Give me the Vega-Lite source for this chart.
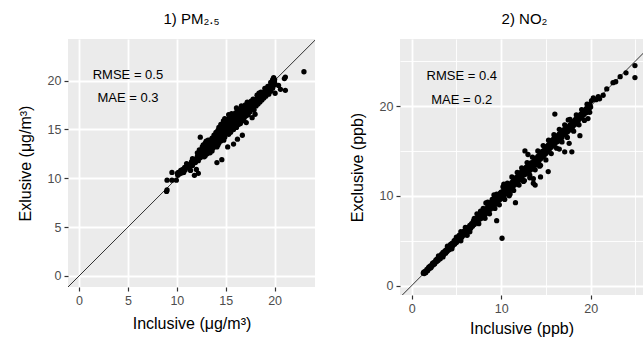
{
  "$schema": "https://vega.github.io/schema/vega-lite/v6.json",
  "padding": {"left": 17, "top": 12, "right": 0, "bottom": 0},
  "config": {
    "font": "Liberation Sans",
    "view": {"fill": "#EBEBEB", "stroke": null},
    "axis": {
      "domain": false,
      "gridColor": "#FFFFFF",
      "tickColor": "#333333",
      "tickSize": 4,
      "tickWidth": 1.2,
      "labelColor": "#4D4D4D",
      "labelFontSize": 12.5,
      "labelPadding": 3,
      "titleFontSize": 16,
      "titleFontWeight": "normal",
      "titleColor": "#000000"
    },
    "axisX": {"titlePadding": 6},
    "axisY": {"titlePadding": 14},
    "title": {"fontSize": 15, "fontWeight": "normal", "anchor": "middle", "offset": 12, "color": "#000000"},
    "concat": {"spacing": 34}
  },
  "datasets": {
    "pm": [
      {"inc": 8.95, "exc": 8.65}, {"inc": 9.0, "exc": 8.8}, {"inc": 9.0, "exc": 9.8}, {"inc": 9.5, "exc": 9.8}, {"inc": 9.95, "exc": 9.8},
      {"inc": 9.5, "exc": 10.6}, {"inc": 10.1, "exc": 10.3}, {"inc": 10.15, "exc": 10.6}, {"inc": 10.3, "exc": 10.45}, {"inc": 10.4, "exc": 10.8},
      {"inc": 10.05, "exc": 10.5}, {"inc": 10.6, "exc": 10.9}, {"inc": 10.8, "exc": 11.1}, {"inc": 10.85, "exc": 10.85}, {"inc": 11.0, "exc": 11.2},
      {"inc": 11.2, "exc": 11.4}, {"inc": 11.3, "exc": 11.0}, {"inc": 11.5, "exc": 11.7}, {"inc": 11.6, "exc": 11.3}, {"inc": 11.7, "exc": 11.9},
      {"inc": 11.9, "exc": 11.6}, {"inc": 11.8, "exc": 10.3}, {"inc": 12.2, "exc": 10.5}, {"inc": 12.0, "exc": 10.9}, {"inc": 11.4, "exc": 10.8},
      {"inc": 12.0, "exc": 12.0}, {"inc": 12.1, "exc": 12.2}, {"inc": 12.2, "exc": 11.8}, {"inc": 12.3, "exc": 12.5}, {"inc": 12.4, "exc": 12.1},
      {"inc": 12.4, "exc": 14.2}, {"inc": 12.5, "exc": 12.8}, {"inc": 12.6, "exc": 12.4}, {"inc": 12.7, "exc": 12.9}, {"inc": 12.8, "exc": 12.6},
      {"inc": 12.9, "exc": 13.1}, {"inc": 12.9, "exc": 12.3}, {"inc": 13.0, "exc": 13.3}, {"inc": 13.0, "exc": 12.8}, {"inc": 13.1, "exc": 12.5},
      {"inc": 13.2, "exc": 13.0}, {"inc": 13.2, "exc": 13.9}, {"inc": 13.3, "exc": 13.5}, {"inc": 13.3, "exc": 12.9}, {"inc": 13.4, "exc": 13.2},
      {"inc": 13.5, "exc": 13.7}, {"inc": 13.5, "exc": 13.0}, {"inc": 13.6, "exc": 13.4}, {"inc": 13.7, "exc": 13.75}, {"inc": 13.7, "exc": 13.1},
      {"inc": 13.8, "exc": 13.6}, {"inc": 13.9, "exc": 14.0}, {"inc": 13.9, "exc": 13.3}, {"inc": 14.0, "exc": 14.2}, {"inc": 14.0, "exc": 13.7},
      {"inc": 14.1, "exc": 13.9}, {"inc": 14.1, "exc": 11.6}, {"inc": 14.2, "exc": 14.4}, {"inc": 14.2, "exc": 14.9}, {"inc": 14.3, "exc": 14.1},
      {"inc": 14.3, "exc": 13.6}, {"inc": 14.3, "exc": 15.2}, {"inc": 14.4, "exc": 14.6}, {"inc": 14.4, "exc": 14.0}, {"inc": 14.5, "exc": 14.8},
      {"inc": 14.5, "exc": 14.3}, {"inc": 14.5, "exc": 13.8}, {"inc": 14.6, "exc": 15.0}, {"inc": 14.6, "exc": 14.5}, {"inc": 14.6, "exc": 11.9},
      {"inc": 14.7, "exc": 14.2}, {"inc": 14.7, "exc": 14.9}, {"inc": 14.76, "exc": 15.86}, {"inc": 14.8, "exc": 15.1}, {"inc": 14.8, "exc": 14.5},
      {"inc": 14.9, "exc": 14.7}, {"inc": 14.9, "exc": 15.4}, {"inc": 15.0, "exc": 15.0}, {"inc": 15.0, "exc": 14.6}, {"inc": 15.0, "exc": 15.6},
      {"inc": 15.1, "exc": 15.2}, {"inc": 15.1, "exc": 14.8}, {"inc": 15.2, "exc": 15.5}, {"inc": 15.2, "exc": 14.9}, {"inc": 15.2, "exc": 13.2},
      {"inc": 15.3, "exc": 15.3}, {"inc": 15.3, "exc": 16.0}, {"inc": 15.3, "exc": 16.5}, {"inc": 15.4, "exc": 15.6}, {"inc": 15.4, "exc": 15.0},
      {"inc": 15.5, "exc": 15.8}, {"inc": 15.5, "exc": 15.3}, {"inc": 15.6, "exc": 16.2}, {"inc": 15.6, "exc": 15.5}, {"inc": 15.6, "exc": 14.9},
      {"inc": 15.7, "exc": 15.9}, {"inc": 15.7, "exc": 15.3}, {"inc": 15.8, "exc": 16.1}, {"inc": 15.8, "exc": 13.5}, {"inc": 15.9, "exc": 15.7},
      {"inc": 15.9, "exc": 16.4}, {"inc": 16.0, "exc": 16.0}, {"inc": 16.0, "exc": 15.5}, {"inc": 16.1, "exc": 16.3}, {"inc": 16.1, "exc": 15.8},
      {"inc": 16.1, "exc": 17.2}, {"inc": 16.2, "exc": 16.6}, {"inc": 16.2, "exc": 14.0}, {"inc": 16.2, "exc": 15.9}, {"inc": 16.3, "exc": 16.2},
      {"inc": 16.3, "exc": 16.8}, {"inc": 16.4, "exc": 16.4}, {"inc": 16.4, "exc": 15.7}, {"inc": 16.5, "exc": 16.7}, {"inc": 16.5, "exc": 16.1},
      {"inc": 16.6, "exc": 16.9}, {"inc": 16.6, "exc": 16.4}, {"inc": 16.7, "exc": 14.4}, {"inc": 16.7, "exc": 16.6}, {"inc": 16.8, "exc": 17.1},
      {"inc": 16.8, "exc": 16.5}, {"inc": 16.9, "exc": 16.8}, {"inc": 16.9, "exc": 17.3}, {"inc": 17.0, "exc": 17.0}, {"inc": 17.0, "exc": 16.6},
      {"inc": 17.1, "exc": 15.7}, {"inc": 17.1, "exc": 17.2}, {"inc": 17.2, "exc": 16.9}, {"inc": 17.2, "exc": 17.5}, {"inc": 17.3, "exc": 17.1},
      {"inc": 17.4, "exc": 17.3}, {"inc": 17.4, "exc": 16.8}, {"inc": 17.5, "exc": 17.6}, {"inc": 17.5, "exc": 17.2}, {"inc": 17.6, "exc": 17.4},
      {"inc": 17.7, "exc": 16.2}, {"inc": 17.7, "exc": 17.7}, {"inc": 17.8, "exc": 17.5}, {"inc": 17.9, "exc": 17.8}, {"inc": 17.9, "exc": 17.4},
      {"inc": 18.0, "exc": 18.0}, {"inc": 18.0, "exc": 16.55}, {"inc": 18.0, "exc": 17.7}, {"inc": 18.1, "exc": 17.9}, {"inc": 18.2, "exc": 18.1},
      {"inc": 18.2, "exc": 17.8}, {"inc": 18.3, "exc": 18.2}, {"inc": 18.4, "exc": 18.0}, {"inc": 18.4, "exc": 18.4}, {"inc": 18.5, "exc": 18.3},
      {"inc": 18.6, "exc": 18.5}, {"inc": 18.6, "exc": 18.1}, {"inc": 18.7, "exc": 18.4}, {"inc": 18.8, "exc": 18.7}, {"inc": 18.8, "exc": 18.3},
      {"inc": 18.9, "exc": 18.6}, {"inc": 19.0, "exc": 18.9}, {"inc": 19.0, "exc": 18.5}, {"inc": 19.1, "exc": 18.8}, {"inc": 19.2, "exc": 19.0},
      {"inc": 19.2, "exc": 18.6}, {"inc": 19.3, "exc": 18.9}, {"inc": 19.4, "exc": 19.2}, {"inc": 19.4, "exc": 18.8}, {"inc": 19.5, "exc": 19.3},
      {"inc": 19.5, "exc": 19.0}, {"inc": 19.6, "exc": 19.5}, {"inc": 19.7, "exc": 19.3}, {"inc": 19.7, "exc": 19.7}, {"inc": 19.8, "exc": 19.6},
      {"inc": 19.9, "exc": 20.0}, {"inc": 19.9, "exc": 20.3}, {"inc": 20.0, "exc": 19.8}, {"inc": 20.0, "exc": 20.1}, {"inc": 20.05, "exc": 18.7},
      {"inc": 20.4, "exc": 19.5}, {"inc": 20.6, "exc": 19.1}, {"inc": 21.1, "exc": 19.0}, {"inc": 21.0, "exc": 20.2}, {"inc": 21.1, "exc": 20.35},
      {"inc": 23.0, "exc": 20.9},
      {"inc": 12.3, "exc": 12.9}, {"inc": 12.6, "exc": 13.2}, {"inc": 12.8, "exc": 12.2}, {"inc": 13.0, "exc": 13.8}, {"inc": 13.1, "exc": 13.4},
      {"inc": 13.4, "exc": 13.9}, {"inc": 13.6, "exc": 14.1}, {"inc": 13.6, "exc": 12.8}, {"inc": 13.8, "exc": 14.4}, {"inc": 14.0, "exc": 14.7},
      {"inc": 14.1, "exc": 13.2}, {"inc": 14.2, "exc": 13.4}, {"inc": 14.4, "exc": 15.0}, {"inc": 14.5, "exc": 15.5}, {"inc": 14.7, "exc": 15.3},
      {"inc": 14.8, "exc": 13.9}, {"inc": 14.9, "exc": 14.2}, {"inc": 15.0, "exc": 16.0}, {"inc": 15.1, "exc": 15.9}, {"inc": 15.3, "exc": 14.5},
      {"inc": 15.4, "exc": 16.2}, {"inc": 15.5, "exc": 14.7}, {"inc": 15.6, "exc": 16.6}, {"inc": 15.7, "exc": 16.4}, {"inc": 15.8, "exc": 15.0},
      {"inc": 15.9, "exc": 15.2}, {"inc": 16.0, "exc": 16.7}, {"inc": 16.1, "exc": 15.2}, {"inc": 16.3, "exc": 15.5}, {"inc": 16.4, "exc": 17.0},
      {"inc": 16.5, "exc": 15.6}, {"inc": 16.6, "exc": 17.4}, {"inc": 16.7, "exc": 16.0}, {"inc": 16.8, "exc": 15.9}, {"inc": 16.9, "exc": 16.2},
      {"inc": 17.0, "exc": 17.5}, {"inc": 17.1, "exc": 16.4}, {"inc": 17.2, "exc": 17.8}, {"inc": 17.3, "exc": 16.5}, {"inc": 17.5, "exc": 16.8},
      {"inc": 17.6, "exc": 17.9}, {"inc": 17.7, "exc": 17.1}, {"inc": 17.8, "exc": 18.1}, {"inc": 17.9, "exc": 17.0}, {"inc": 18.1, "exc": 17.4},
      {"inc": 18.2, "exc": 18.5}, {"inc": 18.3, "exc": 17.6}, {"inc": 18.5, "exc": 17.8}, {"inc": 18.6, "exc": 18.8}, {"inc": 18.7, "exc": 18.0},
      {"inc": 18.9, "exc": 18.2}, {"inc": 19.0, "exc": 19.2}, {"inc": 19.1, "exc": 18.4}, {"inc": 19.3, "exc": 19.4}, {"inc": 19.4, "exc": 18.6},
      {"inc": 19.6, "exc": 18.9}, {"inc": 19.8, "exc": 19.2}, {"inc": 19.9, "exc": 19.5}, {"inc": 19.8, "exc": 20.1}, {"inc": 19.6, "exc": 19.8},
      {"inc": 12.1, "exc": 12.6}, {"inc": 11.6, "exc": 12.0}, {"inc": 11.0, "exc": 11.5}, {"inc": 10.7, "exc": 10.6}, {"inc": 12.7, "exc": 13.4},
      {"inc": 13.4, "exc": 12.6}, {"inc": 14.9, "exc": 16.1}, {"inc": 14.3, "exc": 14.9}, {"inc": 16.2, "exc": 16.9}, {"inc": 18.4, "exc": 18.7},
      {"inc": 12.15, "exc": 12.35}, {"inc": 12.45, "exc": 12.55}, {"inc": 12.75, "exc": 12.75}, {"inc": 13.05, "exc": 13.1}, {"inc": 13.25, "exc": 13.25},
      {"inc": 13.55, "exc": 13.5}, {"inc": 13.75, "exc": 13.9}, {"inc": 14.05, "exc": 14.0}, {"inc": 14.25, "exc": 14.25}, {"inc": 14.55, "exc": 14.6},
      {"inc": 14.75, "exc": 14.65}, {"inc": 15.05, "exc": 15.3}, {"inc": 15.25, "exc": 15.2}, {"inc": 15.45, "exc": 15.45}, {"inc": 15.65, "exc": 15.7},
      {"inc": 15.85, "exc": 15.9}, {"inc": 16.05, "exc": 16.2}, {"inc": 16.25, "exc": 16.3}, {"inc": 16.45, "exc": 16.5}, {"inc": 16.65, "exc": 16.6},
      {"inc": 16.85, "exc": 16.9}, {"inc": 17.05, "exc": 17.0}, {"inc": 17.25, "exc": 17.2}, {"inc": 17.45, "exc": 17.4}, {"inc": 17.65, "exc": 17.5},
      {"inc": 17.85, "exc": 17.7}, {"inc": 18.05, "exc": 17.9}, {"inc": 18.25, "exc": 18.0}, {"inc": 18.45, "exc": 18.2}, {"inc": 18.65, "exc": 18.4},
      {"inc": 18.85, "exc": 18.5}, {"inc": 19.05, "exc": 18.7}, {"inc": 19.25, "exc": 18.9}, {"inc": 19.45, "exc": 19.1}, {"inc": 19.65, "exc": 19.3},
      {"inc": 19.85, "exc": 19.9}, {"inc": 11.35, "exc": 11.35}, {"inc": 11.75, "exc": 11.6}, {"inc": 10.55, "exc": 10.55}, {"inc": 12.9, "exc": 13.6},
      {"inc": 15.5, "exc": 16.4}
    ],
    "no2": [
      {"inc": 1.3, "exc": 1.4}, {"inc": 1.4, "exc": 1.35}, {"inc": 1.5, "exc": 1.6}, {"inc": 1.6, "exc": 1.5}, {"inc": 1.7, "exc": 1.8},
      {"inc": 1.8, "exc": 1.7}, {"inc": 1.9, "exc": 2.0}, {"inc": 2.0, "exc": 1.9}, {"inc": 2.1, "exc": 2.2}, {"inc": 2.2, "exc": 2.1},
      {"inc": 2.3, "exc": 2.4}, {"inc": 2.4, "exc": 2.3}, {"inc": 2.5, "exc": 2.6}, {"inc": 2.6, "exc": 2.5}, {"inc": 2.7, "exc": 2.8},
      {"inc": 2.8, "exc": 2.7}, {"inc": 2.9, "exc": 3.0}, {"inc": 3.0, "exc": 2.9}, {"inc": 3.1, "exc": 3.2}, {"inc": 3.2, "exc": 3.0},
      {"inc": 3.3, "exc": 3.4}, {"inc": 3.4, "exc": 3.3}, {"inc": 3.5, "exc": 3.7}, {"inc": 3.6, "exc": 3.5}, {"inc": 3.7, "exc": 3.8},
      {"inc": 3.8, "exc": 3.6}, {"inc": 3.9, "exc": 4.0}, {"inc": 4.0, "exc": 3.9}, {"inc": 4.1, "exc": 4.3}, {"inc": 4.2, "exc": 4.0},
      {"inc": 4.3, "exc": 4.4}, {"inc": 4.4, "exc": 4.2}, {"inc": 4.5, "exc": 4.7}, {"inc": 4.6, "exc": 4.5}, {"inc": 4.7, "exc": 4.8},
      {"inc": 4.8, "exc": 4.6}, {"inc": 4.9, "exc": 5.1}, {"inc": 5.0, "exc": 4.8}, {"inc": 5.1, "exc": 5.3}, {"inc": 5.2, "exc": 5.0},
      {"inc": 5.3, "exc": 5.6}, {"inc": 5.4, "exc": 5.2}, {"inc": 5.5, "exc": 5.5}, {"inc": 5.6, "exc": 5.4}, {"inc": 5.7, "exc": 5.9},
      {"inc": 5.8, "exc": 5.6}, {"inc": 5.9, "exc": 6.1}, {"inc": 6.0, "exc": 5.8}, {"inc": 6.1, "exc": 6.3}, {"inc": 6.2, "exc": 6.0},
      {"inc": 6.3, "exc": 6.5}, {"inc": 6.4, "exc": 6.2}, {"inc": 6.5, "exc": 6.7}, {"inc": 6.6, "exc": 6.4}, {"inc": 6.7, "exc": 6.9},
      {"inc": 6.8, "exc": 6.6}, {"inc": 6.9, "exc": 7.2}, {"inc": 7.0, "exc": 6.8}, {"inc": 7.1, "exc": 7.3}, {"inc": 7.2, "exc": 7.0},
      {"inc": 7.3, "exc": 7.5}, {"inc": 7.4, "exc": 7.1}, {"inc": 7.5, "exc": 7.8}, {"inc": 7.6, "exc": 7.4}, {"inc": 7.7, "exc": 7.9},
      {"inc": 7.8, "exc": 7.5}, {"inc": 7.9, "exc": 8.1}, {"inc": 8.0, "exc": 7.8}, {"inc": 8.1, "exc": 8.4}, {"inc": 8.2, "exc": 7.9},
      {"inc": 8.3, "exc": 8.5}, {"inc": 8.4, "exc": 8.1}, {"inc": 8.5, "exc": 8.8}, {"inc": 8.6, "exc": 8.3}, {"inc": 8.7, "exc": 8.9},
      {"inc": 8.8, "exc": 8.5}, {"inc": 8.9, "exc": 9.3}, {"inc": 9.0, "exc": 8.7}, {"inc": 9.1, "exc": 9.2}, {"inc": 9.2, "exc": 8.9},
      {"inc": 9.3, "exc": 9.6}, {"inc": 9.4, "exc": 9.1}, {"inc": 9.5, "exc": 9.8}, {"inc": 9.5, "exc": 7.24}, {"inc": 9.6, "exc": 9.4},
      {"inc": 9.7, "exc": 10.0}, {"inc": 9.8, "exc": 9.5}, {"inc": 9.9, "exc": 10.3}, {"inc": 10.0, "exc": 9.7}, {"inc": 10.0, "exc": 10.4},
      {"inc": 10.1, "exc": 5.28}, {"inc": 10.1, "exc": 10.0}, {"inc": 10.2, "exc": 10.5}, {"inc": 10.3, "exc": 9.9}, {"inc": 10.4, "exc": 10.7},
      {"inc": 10.5, "exc": 10.2}, {"inc": 10.6, "exc": 10.9}, {"inc": 10.7, "exc": 10.3}, {"inc": 10.8, "exc": 11.1}, {"inc": 10.9, "exc": 10.6},
      {"inc": 11.0, "exc": 11.3}, {"inc": 11.1, "exc": 10.8}, {"inc": 11.2, "exc": 11.5}, {"inc": 11.3, "exc": 11.0}, {"inc": 11.4, "exc": 11.8},
      {"inc": 11.5, "exc": 11.2}, {"inc": 11.6, "exc": 9.24}, {"inc": 11.6, "exc": 12.0}, {"inc": 11.7, "exc": 11.4}, {"inc": 11.8, "exc": 12.1},
      {"inc": 11.9, "exc": 11.6}, {"inc": 12.0, "exc": 12.4}, {"inc": 12.1, "exc": 11.8}, {"inc": 12.2, "exc": 12.6}, {"inc": 12.3, "exc": 11.9},
      {"inc": 12.4, "exc": 12.8}, {"inc": 12.5, "exc": 12.3}, {"inc": 12.66, "exc": 15.0}, {"inc": 12.6, "exc": 13.0}, {"inc": 12.7, "exc": 12.4},
      {"inc": 12.8, "exc": 13.2}, {"inc": 12.9, "exc": 12.7}, {"inc": 13.0, "exc": 13.4}, {"inc": 13.1, "exc": 12.6}, {"inc": 13.2, "exc": 13.6},
      {"inc": 13.3, "exc": 12.9}, {"inc": 13.4, "exc": 13.7}, {"inc": 13.5, "exc": 13.2}, {"inc": 13.6, "exc": 11.4}, {"inc": 13.8, "exc": 11.2},
      {"inc": 13.7, "exc": 13.9}, {"inc": 13.8, "exc": 13.4}, {"inc": 13.9, "exc": 14.2}, {"inc": 14.0, "exc": 13.7}, {"inc": 14.1, "exc": 14.4},
      {"inc": 14.2, "exc": 13.8}, {"inc": 14.4, "exc": 12.1}, {"inc": 14.3, "exc": 14.6}, {"inc": 14.4, "exc": 14.1}, {"inc": 14.5, "exc": 14.9},
      {"inc": 14.6, "exc": 14.3}, {"inc": 14.7, "exc": 15.0}, {"inc": 14.8, "exc": 14.5}, {"inc": 14.9, "exc": 15.3}, {"inc": 15.0, "exc": 14.7},
      {"inc": 15.1, "exc": 15.5}, {"inc": 15.26, "exc": 12.7}, {"inc": 15.2, "exc": 14.9}, {"inc": 15.3, "exc": 15.7}, {"inc": 15.4, "exc": 15.2},
      {"inc": 15.5, "exc": 16.0}, {"inc": 15.6, "exc": 15.4}, {"inc": 15.7, "exc": 16.2}, {"inc": 15.8, "exc": 15.6}, {"inc": 15.9, "exc": 16.4},
      {"inc": 16.0, "exc": 19.1}, {"inc": 16.0, "exc": 15.8}, {"inc": 16.1, "exc": 16.5}, {"inc": 16.2, "exc": 16.0}, {"inc": 16.3, "exc": 16.7},
      {"inc": 16.4, "exc": 16.1}, {"inc": 16.5, "exc": 16.9}, {"inc": 16.6, "exc": 16.3}, {"inc": 16.7, "exc": 17.1}, {"inc": 16.8, "exc": 16.5},
      {"inc": 16.9, "exc": 17.3}, {"inc": 17.0, "exc": 16.8}, {"inc": 17.1, "exc": 14.9}, {"inc": 17.1, "exc": 17.4}, {"inc": 17.2, "exc": 17.0},
      {"inc": 17.3, "exc": 17.6}, {"inc": 17.4, "exc": 17.1}, {"inc": 17.5, "exc": 18.45}, {"inc": 17.5, "exc": 17.7}, {"inc": 17.6, "exc": 15.85},
      {"inc": 17.6, "exc": 17.3}, {"inc": 17.7, "exc": 17.9}, {"inc": 17.8, "exc": 17.5}, {"inc": 17.9, "exc": 14.9}, {"inc": 17.9, "exc": 18.1},
      {"inc": 18.0, "exc": 17.7}, {"inc": 18.1, "exc": 18.3}, {"inc": 18.2, "exc": 17.9}, {"inc": 18.3, "exc": 18.5}, {"inc": 18.4, "exc": 18.1},
      {"inc": 18.5, "exc": 18.7}, {"inc": 18.6, "exc": 18.3}, {"inc": 18.7, "exc": 18.9}, {"inc": 18.8, "exc": 16.7}, {"inc": 18.8, "exc": 18.6},
      {"inc": 18.9, "exc": 19.1}, {"inc": 19.0, "exc": 18.7}, {"inc": 19.1, "exc": 19.3}, {"inc": 19.2, "exc": 19.0}, {"inc": 19.3, "exc": 19.5},
      {"inc": 19.4, "exc": 19.2}, {"inc": 19.5, "exc": 19.7}, {"inc": 19.6, "exc": 19.3}, {"inc": 19.7, "exc": 18.6}, {"inc": 19.7, "exc": 20.0},
      {"inc": 19.8, "exc": 19.6}, {"inc": 19.9, "exc": 20.2}, {"inc": 20.0, "exc": 19.9}, {"inc": 20.3, "exc": 20.9}, {"inc": 20.6, "exc": 20.7},
      {"inc": 20.85, "exc": 21.05}, {"inc": 21.0, "exc": 20.8}, {"inc": 21.4, "exc": 21.2}, {"inc": 21.8, "exc": 21.9}, {"inc": 22.5, "exc": 22.6},
      {"inc": 22.8, "exc": 22.7}, {"inc": 23.3, "exc": 23.27}, {"inc": 23.95, "exc": 23.7}, {"inc": 24.95, "exc": 24.5}, {"inc": 24.95, "exc": 23.16},
      {"inc": 3.0, "exc": 3.3}, {"inc": 3.5, "exc": 3.2}, {"inc": 4.0, "exc": 4.4}, {"inc": 4.5, "exc": 4.1}, {"inc": 5.0, "exc": 5.4},
      {"inc": 5.5, "exc": 5.0}, {"inc": 5.5, "exc": 6.0}, {"inc": 6.0, "exc": 6.5}, {"inc": 6.5, "exc": 6.0}, {"inc": 7.0, "exc": 7.5},
      {"inc": 7.5, "exc": 6.9}, {"inc": 7.7, "exc": 8.3}, {"inc": 8.0, "exc": 8.6}, {"inc": 8.2, "exc": 7.5}, {"inc": 8.5, "exc": 9.3},
      {"inc": 8.7, "exc": 8.0}, {"inc": 9.0, "exc": 9.6}, {"inc": 9.3, "exc": 8.6}, {"inc": 9.5, "exc": 10.2}, {"inc": 9.8, "exc": 9.0},
      {"inc": 10.2, "exc": 11.0}, {"inc": 10.4, "exc": 9.6}, {"inc": 10.7, "exc": 11.4}, {"inc": 10.9, "exc": 10.0}, {"inc": 11.2, "exc": 12.1},
      {"inc": 11.4, "exc": 10.6}, {"inc": 11.8, "exc": 12.6}, {"inc": 12.0, "exc": 11.2}, {"inc": 12.3, "exc": 13.1}, {"inc": 12.5, "exc": 11.6},
      {"inc": 12.9, "exc": 13.7}, {"inc": 13.2, "exc": 12.3}, {"inc": 13.5, "exc": 14.3}, {"inc": 13.0, "exc": 14.6}, {"inc": 13.8, "exc": 12.9},
      {"inc": 14.1, "exc": 15.0}, {"inc": 14.3, "exc": 13.3}, {"inc": 14.7, "exc": 15.6}, {"inc": 15.0, "exc": 14.0}, {"inc": 15.3, "exc": 16.2},
      {"inc": 15.6, "exc": 14.7}, {"inc": 15.9, "exc": 16.8}, {"inc": 16.2, "exc": 15.3}, {"inc": 16.5, "exc": 17.4}, {"inc": 16.8, "exc": 16.0},
      {"inc": 17.1, "exc": 17.9}, {"inc": 17.4, "exc": 16.5}, {"inc": 17.7, "exc": 18.5}, {"inc": 18.1, "exc": 17.2}, {"inc": 18.4, "exc": 19.0},
      {"inc": 18.7, "exc": 17.9}, {"inc": 19.0, "exc": 19.6}, {"inc": 19.3, "exc": 18.4}, {"inc": 19.6, "exc": 20.2}, {"inc": 19.9, "exc": 19.3},
      {"inc": 20.1, "exc": 20.6}, {"inc": 16.5, "exc": 15.2}, {"inc": 16.0, "exc": 16.3}, {"inc": 13.2, "exc": 12.0}, {"inc": 13.6, "exc": 11.9},
      {"inc": 1.35, "exc": 1.5}, {"inc": 1.55, "exc": 1.45}, {"inc": 1.75, "exc": 1.7}, {"inc": 1.95, "exc": 2.1}, {"inc": 2.15, "exc": 2.0},
      {"inc": 2.35, "exc": 2.5}, {"inc": 2.55, "exc": 2.4}, {"inc": 2.75, "exc": 2.9}, {"inc": 2.95, "exc": 2.8}, {"inc": 3.15, "exc": 3.1},
      {"inc": 3.35, "exc": 3.5}, {"inc": 3.55, "exc": 3.45}, {"inc": 3.75, "exc": 3.9}, {"inc": 3.95, "exc": 3.8}, {"inc": 4.15, "exc": 4.1},
      {"inc": 4.35, "exc": 4.6}, {"inc": 4.55, "exc": 4.4}, {"inc": 4.75, "exc": 5.0}, {"inc": 4.95, "exc": 4.9}, {"inc": 5.15, "exc": 5.1},
      {"inc": 5.35, "exc": 5.4}, {"inc": 5.65, "exc": 5.7}, {"inc": 5.85, "exc": 6.0}, {"inc": 6.05, "exc": 6.1}, {"inc": 6.25, "exc": 6.3},
      {"inc": 6.45, "exc": 6.5}, {"inc": 6.65, "exc": 6.6}, {"inc": 6.85, "exc": 7.0}, {"inc": 7.05, "exc": 7.1}, {"inc": 7.25, "exc": 7.3},
      {"inc": 7.45, "exc": 7.6}, {"inc": 7.65, "exc": 7.6}, {"inc": 7.85, "exc": 8.0}, {"inc": 8.05, "exc": 8.1}, {"inc": 8.25, "exc": 8.3},
      {"inc": 8.45, "exc": 8.5}, {"inc": 8.65, "exc": 8.7}, {"inc": 8.85, "exc": 9.0}, {"inc": 9.05, "exc": 9.1}, {"inc": 9.25, "exc": 9.3},
      {"inc": 9.45, "exc": 9.4}, {"inc": 9.65, "exc": 9.8}, {"inc": 9.85, "exc": 9.9}, {"inc": 10.05, "exc": 10.1}, {"inc": 10.25, "exc": 10.2},
      {"inc": 10.45, "exc": 10.5}, {"inc": 10.65, "exc": 10.6}, {"inc": 10.85, "exc": 10.9}, {"inc": 11.05, "exc": 11.0}, {"inc": 11.25, "exc": 11.3},
      {"inc": 11.45, "exc": 11.4}, {"inc": 11.65, "exc": 11.7}, {"inc": 11.85, "exc": 11.8}, {"inc": 12.05, "exc": 12.1}, {"inc": 12.25, "exc": 12.2},
      {"inc": 12.45, "exc": 12.5}, {"inc": 12.65, "exc": 12.6}, {"inc": 12.85, "exc": 12.9}, {"inc": 13.05, "exc": 13.0}, {"inc": 13.25, "exc": 13.3},
      {"inc": 13.45, "exc": 13.4}, {"inc": 13.65, "exc": 13.6}, {"inc": 13.85, "exc": 13.9}, {"inc": 14.05, "exc": 14.0}, {"inc": 14.25, "exc": 14.3},
      {"inc": 14.45, "exc": 14.5}, {"inc": 14.65, "exc": 14.6}, {"inc": 14.85, "exc": 14.9}, {"inc": 15.05, "exc": 15.1}, {"inc": 15.25, "exc": 15.3},
      {"inc": 15.45, "exc": 15.5}, {"inc": 15.65, "exc": 15.7}, {"inc": 15.85, "exc": 15.9}, {"inc": 16.05, "exc": 16.1}, {"inc": 16.25, "exc": 16.3},
      {"inc": 16.45, "exc": 16.5}, {"inc": 16.65, "exc": 16.7}, {"inc": 16.85, "exc": 16.9}, {"inc": 17.05, "exc": 17.1}, {"inc": 17.25, "exc": 17.3},
      {"inc": 17.45, "exc": 17.5}, {"inc": 17.65, "exc": 17.6}, {"inc": 17.85, "exc": 17.9}, {"inc": 18.05, "exc": 18.1}, {"inc": 18.25, "exc": 18.2},
      {"inc": 18.45, "exc": 18.5}, {"inc": 18.65, "exc": 18.6}, {"inc": 18.85, "exc": 18.9}, {"inc": 19.05, "exc": 19.0}, {"inc": 19.25, "exc": 19.3},
      {"inc": 19.45, "exc": 19.4}, {"inc": 19.65, "exc": 19.7}, {"inc": 19.85, "exc": 19.8},
      {"inc": 8.3, "exc": 9.2}, {"inc": 9.2, "exc": 10.1}, {"inc": 10.3, "exc": 11.3}, {"inc": 7.3, "exc": 8.0}, {"inc": 6.2, "exc": 5.6},
      {"inc": 11.0, "exc": 10.2}, {"inc": 12.6, "exc": 11.7}, {"inc": 14.4, "exc": 13.4}
    ]
  },
  "hconcat": [
    {
      "width": 247,
      "height": 248,
      "title": {"text": "1) PM₂.₅"},
      "layer": [
        {
          "data": {"name": "pm"},
          "mark": {"type": "circle", "size": 28, "opacity": 1, "color": "#000000", "clip": true},
          "encoding": {
            "x": {
              "field": "inc", "type": "quantitative",
              "scale": {"domain": [-1.13, 24.13], "nice": false, "zero": false},
              "title": "Inclusive (μg/m³)",
              "axis": {
                "titlePadding": 9,
                "values": [0, 2.5, 5, 7.5, 10, 12.5, 15, 17.5, 20, 22.5],
                "labelExpr": "datum.value % 5 === 0 ? datum.label : ''",
                "gridWidth": {"condition": {"test": "datum.value % 5 === 0", "value": 1.8}, "value": 0.9},
                "tickOpacity": {"condition": {"test": "datum.value % 5 === 0", "value": 1}, "value": 0}
              }
            },
            "y": {
              "field": "exc", "type": "quantitative",
              "scale": {"domain": [-1.13, 24.25], "nice": false, "zero": false},
              "title": "Exlusive (μg/m³)",
              "axis": {
                "values": [0, 2.5, 5, 7.5, 10, 12.5, 15, 17.5, 20, 22.5],
                "labelExpr": "datum.value % 5 === 0 ? datum.label : ''",
                "gridWidth": {"condition": {"test": "datum.value % 5 === 0", "value": 1.8}, "value": 0.9},
                "tickOpacity": {"condition": {"test": "datum.value % 5 === 0", "value": 1}, "value": 0}
              }
            }
          }
        },
        {
          "data": {"values": [{}]},
          "mark": {"type": "rule", "color": "#000000", "strokeWidth": 0.8, "clip": true},
          "encoding": {
            "x": {"datum": -5, "type": "quantitative"},
            "y": {"datum": -5, "type": "quantitative"},
            "x2": {"datum": 30},
            "y2": {"datum": 30}
          }
        },
        {
          "data": {"values": [{}]},
          "mark": {"type": "text", "fontSize": 13, "color": "#000000", "align": "center", "baseline": "middle"},
          "encoding": {
            "x": {"datum": 5, "type": "quantitative"},
            "y": {"datum": 20.6, "type": "quantitative"},
            "text": {"value": "RMSE = 0.5"}
          }
        },
        {
          "data": {"values": [{}]},
          "mark": {"type": "text", "fontSize": 13, "color": "#000000", "align": "center", "baseline": "middle"},
          "encoding": {
            "x": {"datum": 5, "type": "quantitative"},
            "y": {"datum": 18.25, "type": "quantitative"},
            "text": {"value": "MAE = 0.3"}
          }
        }
      ]
    },
    {
      "width": 243,
      "height": 256,
      "title": {"text": "2) NO₂", "dx": 3},
      "layer": [
        {
          "data": {"name": "no2"},
          "mark": {"type": "circle", "size": 28, "opacity": 1, "color": "#000000", "clip": true},
          "encoding": {
            "x": {
              "field": "inc", "type": "quantitative",
              "scale": {"domain": [-1.3, 25.85], "nice": false, "zero": false},
              "title": "Inclusive (ppb)",
              "axis": {
                "values": [0, 5, 10, 15, 20, 25],
                "labelExpr": "datum.value % 10 === 0 ? datum.label : ''",
                "gridWidth": {"condition": {"test": "datum.value % 10 === 0", "value": 1.8}, "value": 0.9},
                "tickOpacity": {"condition": {"test": "datum.value % 10 === 0", "value": 1}, "value": 0}
              }
            },
            "y": {
              "field": "exc", "type": "quantitative",
              "scale": {"domain": [-1.04, 27.46], "nice": false, "zero": false},
              "title": "Exclusive (ppb)",
              "axis": {
                "values": [0, 5, 10, 15, 20, 25],
                "labelExpr": "datum.value % 10 === 0 ? datum.label : ''",
                "gridWidth": {"condition": {"test": "datum.value % 10 === 0", "value": 1.8}, "value": 0.9},
                "tickOpacity": {"condition": {"test": "datum.value % 10 === 0", "value": 1}, "value": 0}
              }
            }
          }
        },
        {
          "data": {"values": [{}]},
          "mark": {"type": "rule", "color": "#000000", "strokeWidth": 0.8, "clip": true},
          "encoding": {
            "x": {"datum": -5, "type": "quantitative"},
            "y": {"datum": -5, "type": "quantitative"},
            "x2": {"datum": 35},
            "y2": {"datum": 35}
          }
        },
        {
          "data": {"values": [{}]},
          "mark": {"type": "text", "fontSize": 13, "color": "#000000", "align": "center", "baseline": "middle"},
          "encoding": {
            "x": {"datum": 5.6, "type": "quantitative"},
            "y": {"datum": 23.35, "type": "quantitative"},
            "text": {"value": "RMSE = 0.4"}
          }
        },
        {
          "data": {"values": [{}]},
          "mark": {"type": "text", "fontSize": 13, "color": "#000000", "align": "center", "baseline": "middle"},
          "encoding": {
            "x": {"datum": 5.6, "type": "quantitative"},
            "y": {"datum": 20.7, "type": "quantitative"},
            "text": {"value": "MAE = 0.2"}
          }
        }
      ]
    }
  ]
}
